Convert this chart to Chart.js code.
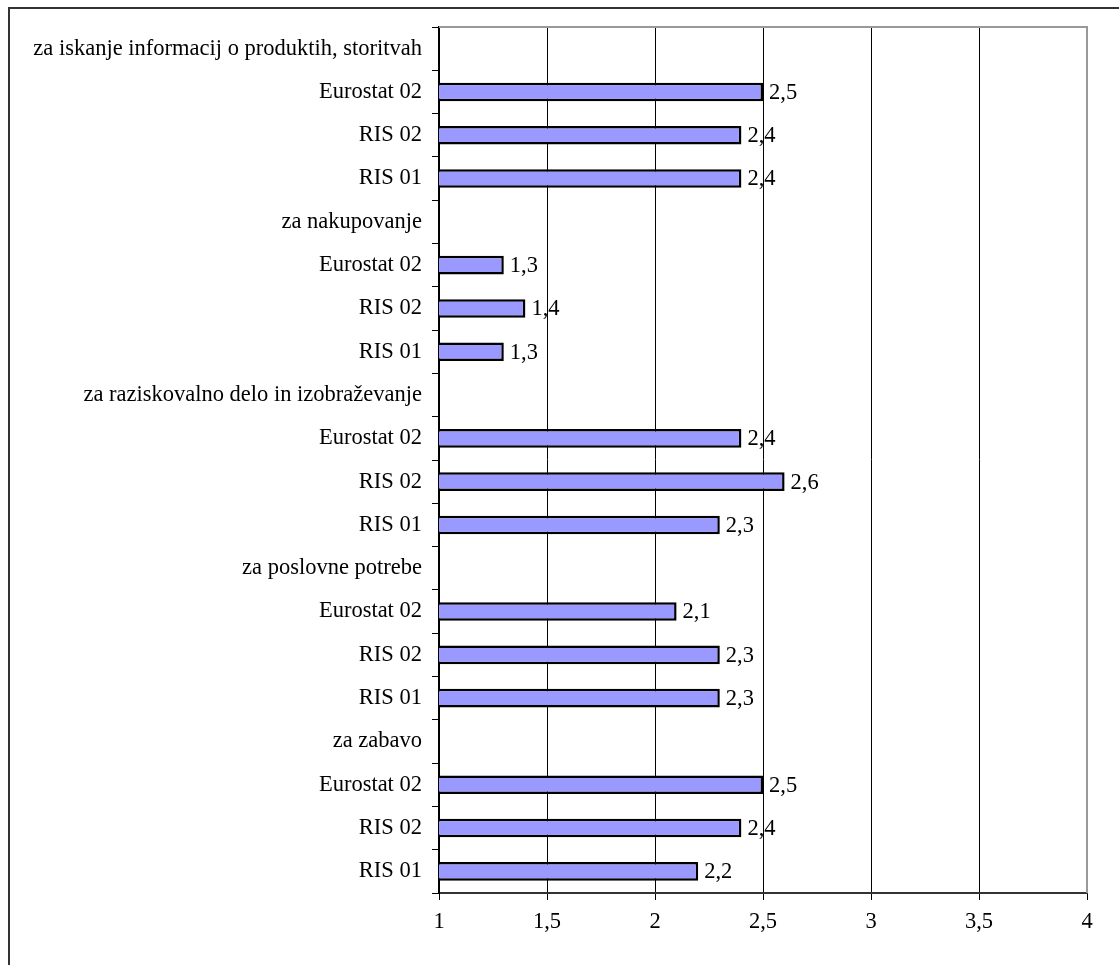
<!DOCTYPE html>
<html>
<head>
<meta charset="utf-8">
<script src="https://cdn.jsdelivr.net/npm/chart.js@4"></script>
<style>
  html, body { margin: 0; padding: 0; background: #fff; overflow: hidden; }
  #frame { position: absolute; left: 8px; top: 7px; width: 1200px; height: 1100px;
           border-left: 2px solid #333; border-top: 2px solid #333; }
  #wrap { position: absolute; left: 0; top: 0; width: 1119px; height: 965px; }
</style>
</head>
<body>
<div id="frame"></div>
<div id="wrap"><canvas id="chart"></canvas></div>
<script>
const labels = [
    "za iskanje informacij o produktih, storitvah", "Eurostat 02", "RIS 02", "RIS 01",
    "za nakupovanje", "Eurostat 02", "RIS 02", "RIS 01",
    "za raziskovalno delo in izobraževanje", "Eurostat 02", "RIS 02", "RIS 01",
    "za poslovne potrebe", "Eurostat 02", "RIS 02", "RIS 01",
    "za zabavo", "Eurostat 02", "RIS 02", "RIS 01"
];
const values = [
    null, 2.5, 2.4, 2.4,
    null, 1.3, 1.4, 1.3,
    null, 2.4, 2.6, 2.3,
    null, 2.1, 2.3, 2.3,
    null, 2.5, 2.4, 2.2
];
const xMin = 1, xMax = 4, xStep = 0.5;

const fmt = v => String(v).replace(".", ",");
const font = { family: "'Liberation Serif', 'Times New Roman', serif", size: 22.5 };

// value labels after each bar, plus grey frame on top/right of plot
const extras = {
    id: "extras",
    afterDatasetsDraw(chart) {
        const ctx = chart.ctx;
        const a = chart.chartArea;
        ctx.save();
        ctx.strokeStyle = "#999";
        ctx.lineWidth = 2;
        ctx.beginPath();
        ctx.moveTo(a.left, a.top);
        ctx.lineTo(a.right, a.top);
        ctx.lineTo(a.right, a.bottom);
        ctx.stroke();
        ctx.font = font.size + "px " + font.family;
        ctx.fillStyle = "#000";
        ctx.textBaseline = "middle";
        chart.getDatasetMeta(0).data.forEach((bar, i) => {
            if (values[i] == null) return;
            ctx.fillText(fmt(values[i]), bar.x + 6, bar.y + 1);
        });
        ctx.restore();
    }
};

new Chart(document.getElementById("chart"), {
    type: "bar",
    data: {
        labels,
        datasets: [{
            data: values,
            backgroundColor: "#9999ff",
            borderColor: "#000",
            borderWidth: 2.5,
            borderSkipped: false,
            barPercentage: 0.43,
            categoryPercentage: 1
        }]
    },
    options: {
        indexAxis: "y",
        responsive: true,
        maintainAspectRatio: false,
        animation: false,
        layout: { padding: { top: 27, right: 32, left: 0, bottom: 0 } },
        plugins: { legend: { display: false }, tooltip: { enabled: false } },
        scales: {
            x: {
                min: xMin,
                max: xMax,
                ticks: { stepSize: xStep, color: "#000", font, padding: 9, callback: v => fmt(v) },
                grid: {
                    color: c => c.index === 6 ? "#999" : "#000",
                    lineWidth: 1,
                    tickLength: 7,
                    tickColor: "#000"
                },
                border: { color: "#333", width: 2 },
                afterFit: s => { s.height = 72; }
            },
            y: {
                ticks: { color: "#000", font, padding: 10, autoSkip: false },
                grid: { drawOnChartArea: false, tickLength: 7, tickColor: "#000" },
                border: { color: "#000", width: 2 },
                afterFit: s => { s.width = 439; }
            }
        }
    },
    plugins: [extras]
});
</script>
</body>
</html>
